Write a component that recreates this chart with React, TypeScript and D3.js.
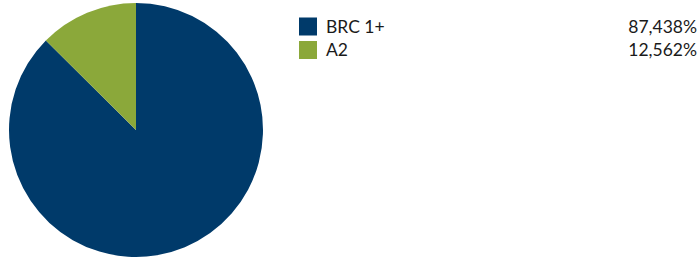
import React from 'react';
import * as d3 from 'd3';

const labels = ['BRC 1+', 'A2'];
const shares = [87.438, 12.562];
const shareLabels = ['87,438%', '12,562%'];
const colors = ['#003A6A', '#8BA83A'];

const App = () => {
  const width = 699;
  const height = 259;
  const cx = 136;
  const cy = 130;
  const radius = 127;

  const data = labels.map((label, i) => ({ label, value: shares[i], text: shareLabels[i], color: colors[i] }));

  // pie starts at 12 o'clock, clockwise
  const pie = d3.pie<any>().value((d) => d.value).sort(null);
  const arc = d3.arc<any>().innerRadius(0).outerRadius(radius);
  const arcs = pie(data);

  return (
    <svg
      width={width}
      height={height}
      style={{ position: 'absolute', left: 0, top: 0, fontFamily: 'Lato, sans-serif' }}
    >
      <g transform={`translate(${cx},${cy})`}>
        {arcs.map((a, i) => (
          <path key={i} d={arc(a) as string} fill={a.data.color} />
        ))}
      </g>
      <g transform="translate(299,17.5)">
        {data.map((d, i) => (
          <g key={d.label} transform={`translate(0,${i * 23.5})`}>
            <rect width={18} height={18} fill={d.color} />
            <text x={27} y={9} dy="0.36em" fontSize={17.5} fill="#1a1a1a">
              {d.label}
            </text>
            <text x={398} y={9} dy="0.36em" fontSize={17.5} fill="#1a1a1a" textAnchor="end">
              {d.text}
            </text>
          </g>
        ))}
      </g>
    </svg>
  );
};

export default App;
